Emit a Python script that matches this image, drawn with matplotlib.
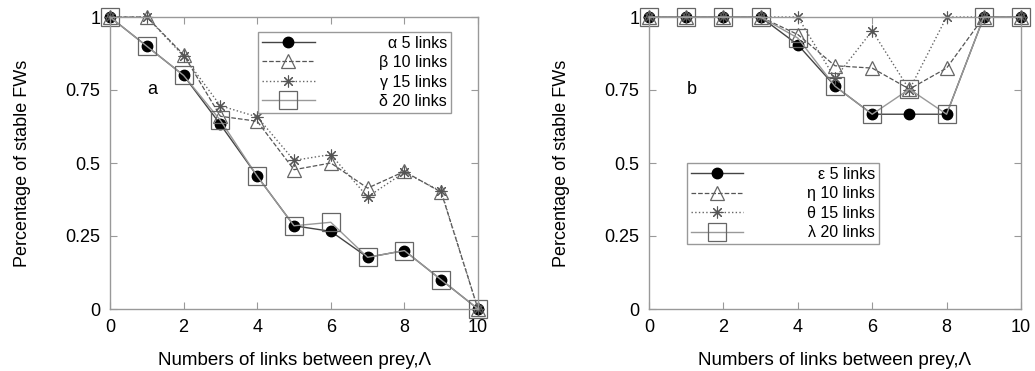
import matplotlib
matplotlib.use("Agg")
import matplotlib.pyplot as plt

plt.rcParams["font.family"] = ["Liberation Sans", "DejaVu Sans"]

# ── data ─────────────────────────────────────────────────────────────────────
links = list(range(11))

# panel a
a_alpha = [1.0, 0.90, 0.80, 0.632, 0.455, 0.285, 0.266, 0.177, 0.200, 0.100, 0.0]
a_beta  = [1.0, 1.0, 0.871, 0.660, 0.643, 0.477, 0.500, 0.414, 0.471, 0.400, 0.0]
a_gamma = [1.0, 1.0, 0.866, 0.696, 0.658, 0.509, 0.529, 0.384, 0.468, 0.403, 0.0]
a_delta = [1.0, 0.90, 0.80, 0.646, 0.455, 0.285, 0.297, 0.177, 0.200, 0.100, 0.0]
a_labels = ["α 5 links", "β 10 links", "γ 15 links", "δ 20 links"]

# panel b
b_eps    = [1, 1, 1, 1, 0.905, 0.763, 0.667, 0.667, 0.667, 1, 1]
b_eta    = [1, 1, 1, 1, 0.940, 0.833, 0.825, 0.753, 0.825, 1, 1]
b_theta  = [1, 1, 1, 1, 1.000, 0.790, 0.953, 0.751, 1.000, 1, 1]
b_lambda = [1, 1, 1, 1, 0.928, 0.763, 0.667, 0.753, 0.667, 1, 1]
b_labels = ["ε 5 links", "η 10 links", "θ 15 links", "λ 20 links"]

yticks = [0, 0.25, 0.5, 0.75, 1]
ytick_labels = ["0", "0.25", "0.5", "0.75", "1"]
xticks = [0, 2, 4, 6, 8, 10]

# ── styles (gnuplot-ish greys) ───────────────────────────────────────────────
STYLES = [
    dict(color="#444444", ls="-",  lw=1.0, marker="o", ms=7.5, mfc="black", mec="black"),
    dict(color="#555555", ls="--", lw=0.9, marker="^", ms=10, mfc="none", mec="#666666", mew=0.9),
    dict(color="#666666", ls=":",  lw=1.0, marker=(8, 2, 0), ms=8.5, mfc="none", mec="#555555", mew=0.8),
    dict(color="#999999", ls="-",  lw=1.0, marker="s", ms=12.5, mfc="none", mec="#666666", mew=0.9),
]
FRAME = "#999999"


def right_align_legend(fig, leg):
    # push each label so the texts end at the same x (gnuplot key style)
    fig.canvas.draw()
    r = fig.canvas.get_renderer()
    widths = [t.get_window_extent(r).width * 72 / fig.dpi for t in leg.get_texts()]
    wmax = max(widths)
    col = leg._legend_box.get_children()[1].get_children()[0]
    for box, w in zip(col.get_children(), widths):
        box.sep = box.sep + (wmax - w)


def draw_panel(ax, series, labels, tag, legend_loc):
    for ys, lab, st in zip(series, labels, STYLES):
        ax.plot(links, ys, label=lab, **st)
    ax.set_xlim(0, 10)
    ax.set_ylim(0, 1)
    ax.set_xticks(xticks)
    ax.set_yticks(yticks)
    ax.set_yticklabels(ytick_labels)
    ax.tick_params(direction="in", top=True, right=True, length=5,
                   color=FRAME, labelsize=13, pad=7)
    for sp in ax.spines.values():
        sp.set_color(FRAME)
        sp.set_linewidth(1.0)
    for line in ax.lines:
        line.set_clip_on(False)
    ax.set_xlabel("Numbers of links between prey,Λ", fontsize=13.5, labelpad=12)
    ax.set_ylabel("Percentage of stable FWs", fontsize=13, labelpad=25)
    ax.text(1.15, 0.75, tag, fontsize=13, ha="center", va="center")
    leg = ax.legend(loc="upper left", bbox_to_anchor=legend_loc, fontsize=11.5,
                    handlelength=3.3, handletextpad=4.0, labelspacing=0.28,
                    borderpad=0.25, borderaxespad=0, fancybox=False,
                    framealpha=1, edgecolor=FRAME)
    leg.get_frame().set_linewidth(1.0)
    return leg


fig = plt.figure(figsize=(10.35, 3.71), dpi=100)
ax_a = fig.add_axes([110 / 1035, 1 - 309 / 371, 368 / 1035, 292 / 371])
ax_b = fig.add_axes([649 / 1035, 1 - 309 / 371, 372 / 1035, 292 / 371])

leg_a = draw_panel(ax_a, [a_alpha, a_beta, a_gamma, a_delta], a_labels, "a", (0.402, 0.95))
leg_b = draw_panel(ax_b, [b_eps, b_eta, b_theta, b_lambda], b_labels, "b", (0.101, 0.50))

right_align_legend(fig, leg_a)
right_align_legend(fig, leg_b)

fig.savefig("out.png", dpi=100)
